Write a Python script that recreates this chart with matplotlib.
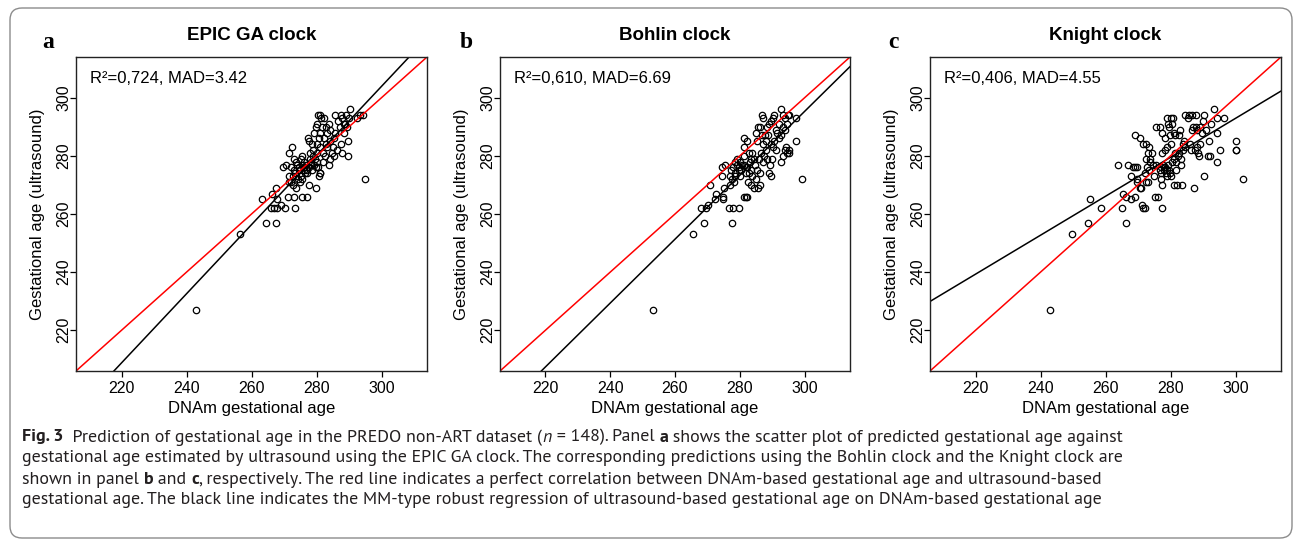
import matplotlib
matplotlib.use("Agg")
import matplotlib.pyplot as plt
from matplotlib.patches import FancyBboxPatch
from matplotlib.transforms import IdentityTransform
from matplotlib.font_manager import FontProperties, fontManager

# ---------------- data ----------------
epic_dnam = [243, 256.5, 263.1, 264.6, 266.4, 267.6, 266.1, 266.9, 267.7, 267.5, 267.8, 269.1, 270.2,
             269.7, 270.5, 271.2, 273, 273.5, 275.6, 277.1, 271.6, 272.5, 271.6, 272, 272.8, 273.8,
             277.6, 279.7, 280.7, 281.2, 271.5, 272.2, 273, 273.5, 274.1, 274.6, 275.1, 275.3, 275.4,
             275.6, 276.1, 276.3, 276.6, 276.9, 277.1, 277.6, 277.9, 278.2, 278.4, 278.7, 279, 279.2,
             279.4, 279.7, 280, 280.2, 274.2, 273.8, 272.8, 274.9, 275.6, 273, 273.8, 277.3, 277.6,
             278.7, 279.2, 279.7, 280.4, 281, 281.4, 282.3, 280.2, 281.2, 281.7, 280.7, 280, 281.2,
             282.3, 282.8, 283.3, 283.8, 284.3, 282.8, 281.9, 282.6, 283.3, 284.3, 284.1, 283.8,
             284.8, 285.1, 285.3, 285.8, 285.8, 286.6, 287.2, 287.4, 287.9, 286.4, 287.4, 287.9,
             288.4, 288.9, 289.2, 289.5, 290, 290.3, 289.7, 289.7, 292.4, 293.4, 294.3, 294.9, 285.3,
             281.9, 281, 288.4, 276.0, 278.0, 277.0, 279.0, 274.5, 280.5]
epic_us = [227, 253, 265, 257, 267, 257, 262, 262, 262, 269, 265, 263, 262,
           276, 277, 266, 266, 262, 266, 266, 281, 283, 273, 271, 270, 269,
           270, 269, 273, 274, 271, 276, 275, 274, 277, 275, 273, 279, 280,
           277, 275, 276, 274, 277, 275, 276, 281, 277, 278, 275, 280, 277,
           279, 276, 278, 281, 272, 273, 273, 271, 272, 279, 278, 286, 285,
           284, 288, 290, 294, 294, 293, 293, 291, 288, 290, 286, 284, 283,
           286, 290, 288, 291, 289, 284, 281, 280, 283, 285, 279, 277,
           281, 283, 286, 288, 294, 292, 290, 294, 293, 282, 284, 281,
           288, 291, 294, 290, 293, 296, 285, 280, 293, 294, 294, 272, 280,
           278, 274, 291, 278, 279, 274, 282, 276, 276]

bohlin_dnam = [253.1, 265.4, 268.9, 277.6, 268.0, 269.7, 270.1, 276.8, 277.9, 279.9, 270.9, 272.4,
               272.6, 274.7, 274.7, 275, 274.5, 274.5, 275.3, 277.1, 277.6, 277.3, 278.1, 278.6,
               279.1, 279.6, 281.2, 281.8, 282.3, 280.5, 281.2, 281.8, 282.3, 282.6, 282.8, 283,
               283.3, 283.6, 283.9, 284.4, 284.7, 284.9, 285.4, 285.7, 286.3, 285.9, 286.5, 286.1,
               287, 287.5, 288, 288.5, 288.9, 289.4, 289.6, 289.9, 290.1, 290.6, 291.1, 292.7,
               293.2, 293.8, 294.3, 294.5, 295.3, 295.1, 297.2, 299.3, 297.2, 281.2, 281.2, 282.3,
               282.8, 283.9, 284.9, 285.4, 285.7, 286.3, 286.8, 287.3, 286.8, 287.9, 288.3, 288.6,
               289, 289.5, 290.1, 290.6, 291.1, 291.6, 292.1, 292.7, 293.2, 293.4, 294, 294.5,
               294.8, 295.3, 293.8, 292.7, 292.2, 289.5, 287.2, 288, 277.1, 277.9, 278.5, 279.1,
               279.6, 280.1, 280.7, 281.2, 281.8, 280.1, 278.6, 283.3, 284.4]
bohlin_us = [227, 253, 257, 257, 262, 262, 263, 262, 262, 262, 270, 265,
             267, 266, 265, 269, 273, 276, 277, 270, 272, 275, 271, 274,
             277, 276, 266, 266, 266, 275, 277, 274, 276, 271, 274, 278,
             275, 270, 273, 269, 277, 272, 275, 269, 270, 279, 281, 274,
             278, 280, 282, 279, 274, 277, 273, 279, 283, 285, 282, 278,
             280, 282, 283, 281, 282, 281, 285, 272, 293, 286, 283, 285,
             281, 281, 288, 285, 290, 290, 294, 293, 287, 287, 290, 287,
             291, 292, 293, 294, 289, 288, 291, 296, 294, 290, 293, 291,
             294, 294, 289, 287, 286, 284, 284, 285, 273, 276, 273, 279,
             275, 273, 277, 280, 276, 278, 278, 279, 279]

knight_dnam = [242.8, 249.6, 254.5, 255.3, 258.6, 263.7, 265.2, 265.5, 266.4, 266.4, 267, 267.9,
               267.9, 268.5, 269, 269.2, 269.2, 269.8, 269.8, 269.8, 270.6, 270.6, 270.9, 271.1,
               271.4, 271.6, 272, 272.3, 272.5, 272.5, 272.6, 272.8, 273, 273.3, 273.1, 273.3,
               273.6, 273.8, 274.4, 274.7, 274.9, 275.2, 275.4, 275.4, 276.2, 276.7, 276.9, 277,
               277.2, 277.4, 277.5, 277.5, 277.5, 277.7, 277.9, 278.2, 278.2, 278.3, 278.5, 278.8,
               278.8, 279, 279, 279.3, 279.2, 279.5, 279.7, 279.8, 280, 280, 280.2, 280.5, 280.8,
               281, 281.1, 281.2, 281.4, 281.5, 281.6, 281.8, 282, 282.2, 282.6, 282.7, 282.9,
               283.1, 283.3, 283.6, 283.7, 283.9, 284.1, 284.4, 284.6, 285.3, 285.6, 285.9, 286.2,
               286.5, 286.6, 286.8, 287.2, 287.5, 287.7, 287.9, 288, 288.2, 288.4, 288.7, 289,
               289.2, 289.7, 290, 290.3, 290.3, 290.8, 291.6, 291.8, 292.3, 292.5, 293.3, 294.2,
               294.2, 294.4, 295.2, 296.4, 300.3, 300.3, 300, 302.3, 278.0, 279.5, 280.5, 277.0]
knight_us = [227, 253, 257, 265, 262, 277, 262, 267, 257, 266, 277, 265,
             273, 276, 266, 276, 287, 276, 272, 271, 286, 269, 269, 263,
             262, 284, 262, 274, 284, 279, 271, 276, 281, 283, 271, 275,
             278, 279, 281, 277, 273, 266, 290, 277, 266, 275, 290, 272,
             276, 288, 262, 270, 281, 277, 275, 286, 282, 276, 274, 283,
             275, 273, 293, 291, 277, 290, 287, 274, 293, 284, 273, 291, 293,
             270, 279, 288, 281, 287, 278, 275, 270, 280, 287, 281, 289,
             277, 279, 270, 282, 284, 285, 294, 283, 293, 294, 284, 282,
             294, 289, 290, 269, 282, 294, 290, 283, 289, 281, 280, 284,
             290, 288, 292, 294, 273, 289, 280, 285, 280, 291, 296, 293,
             288, 278, 282, 293, 285, 282, 282, 272, 276, 275, 278, 274]

panel_letters = ["a", "b", "c"]
panel_titles = ["EPIC GA clock", "Bohlin clock", "Knight clock"]
panel_stats = ["R²=0,724, MAD=3.42", "R²=0,610, MAD=6.69", "R²=0,406, MAD=4.55"]
fit_intercepts = [-52.8, -34.4, 91.9]
fit_slopes = [1.189, 1.099, 0.670]
axis_ticks = [220, 240, 260, 280, 300]
x_label = "DNAm gestational age"
y_label = "Gestational age (ultrasound)"

series = [(epic_dnam, epic_us), (bohlin_dnam, bohlin_us), (knight_dnam, knight_us)]

# ---------------- fonts ----------------
def has_static(name):
    entries = [f for f in fontManager.ttflist if f.name == name]
    reg = any(f.weight in (400, "normal", "regular") and f.style == "normal" for f in entries)
    bold = any(f.weight in (700, "bold") and f.style == "normal" for f in entries)
    ital = any(f.style == "italic" and f.weight in (400, "normal", "regular") for f in entries)
    return reg and bold and ital


cap_font = next((n for n in ["Myriad Pro", "Source Sans Pro", "PT Sans", "Fira Sans", "Open Sans"]
                 if has_static(n)), "DejaVu Sans")
available = set(f.name for f in fontManager.ttflist)
plot_font = next((n for n in ["Arial", "Liberation Sans", "Arimo"] if n in available), "DejaVu Sans")
serif_font = next((n for n in ["Times New Roman", "Liberation Serif", "Tinos"] if n in available), "DejaVu Serif")

# ---------------- layout ----------------
W, H = 1295, 542
fig = plt.figure(figsize=(W / 100, H / 100), dpi=100)
fig.patch.set_facecolor("white")


def fx(px):
    return px / W


def fy(py):
    return 1 - py / H


# outer frame
frame = FancyBboxPatch((10, H - 538), 1282, 530, boxstyle="round,pad=0,rounding_size=12",
                       transform=IdentityTransform(), facecolor="none", edgecolor="#8c8c8c",
                       linewidth=1.0)
fig.add_artist(frame)

axes_px = [(76, 427), (500, 850), (930, 1281)]
top_px, bot_px = 57, 371
letter_x = [48, 466, 893]

for i, (l, r) in enumerate(axes_px):
    ax = fig.add_axes([fx(l), fy(bot_px), fx(r - l), (bot_px - top_px) / H])
    xs, ys = series[i]
    ax.plot(xs, ys, linestyle="none", marker="o", mfc="none", mec="black", ms=4.6, mew=0.9)
    ax.axline((0, fit_intercepts[i]), slope=fit_slopes[i], color="black", lw=1.1)
    ax.axline((0, 0), slope=1, color="#ff0000", lw=1.1)
    ax.set_xlim(206, 314)
    ax.set_ylim(206, 314)
    ax.set_xticks(axis_ticks)
    ax.set_yticks(axis_ticks)
    ax.tick_params(direction="out", length=4, width=0.9, labelsize=11.5, colors="black")
    ax.tick_params(axis="x", pad=3)
    ax.tick_params(axis="y", pad=5)
    for lab in ax.get_yticklabels():
        lab.set_rotation(90)
        lab.set_va("center")
        lab.set_ha("center")
    for lab in ax.get_xticklabels() + ax.get_yticklabels():
        lab.set_fontfamily(plot_font)
    for sp in ax.spines.values():
        sp.set_linewidth(1.0)
        sp.set_color("#222222")
    ax.set_xlabel(x_label, fontsize=12, fontfamily=plot_font, labelpad=4)
    ax.set_ylabel(y_label, fontsize=12, fontfamily=plot_font, labelpad=8)
    ax.set_title(panel_titles[i], fontsize=13.5, fontweight="bold", fontfamily=plot_font, pad=12)
    ax.text(0.04, 0.93, panel_stats[i], transform=ax.transAxes, fontsize=12,
            fontfamily=plot_font, ha="left", va="center")
    fig.text(fx(letter_x[i]), fy(42), panel_letters[i], fontsize=17, fontweight="bold",
             fontfamily=serif_font, ha="center", va="center")

# ---------------- caption ----------------
cap_lines = [
    [("Fig. 3", "b"), ("  Prediction of gestational age in the PREDO non-ART dataset (", "r"), ("n", "i"),
     (" = 148). Panel ", "r"), ("a", "b"),
     (" shows the scatter plot of predicted gestational age against", "r")],
    [("gestational age estimated by ultrasound using the EPIC GA clock. The corresponding predictions using the Bohlin clock and the Knight clock are", "r")],
    [("shown in panel ", "r"), ("b", "b"), (" and ", "r"), ("c", "b"),
     (", respectively. The red line indicates a perfect correlation between DNAm-based gestational age and ultrasound-based", "r")],
    [("gestational age. The black line indicates the MM-type robust regression of ultrasound-based gestational age on DNAm-based gestational age", "r")],
]

fig.canvas.draw()
renderer = fig.canvas.get_renderer()
cap_family = [cap_font, "DejaVu Sans"]


def fprop(style, size):
    return FontProperties(family=cap_family, size=size,
                          weight="bold" if style == "b" else "normal",
                          style="italic" if style == "i" else "normal")


def seg_width(s, style, size):
    fp = fprop(style, size)
    t1 = fig.text(0, 0, "|" + s + "|", fontproperties=fp)
    w1 = t1.get_window_extent(renderer).width
    t1.remove()
    t2 = fig.text(0, 0, "||", fontproperties=fp)
    w2 = t2.get_window_extent(renderer).width
    t2.remove()
    return w1 - w2


# scale font so the first line spans the same width as in the reference
base = 10.0
w_base = sum(seg_width(s, st, base) for s, st in cap_lines[0])
cap_size = base * (1126 - 22) / w_base

baselines = [441.5, 462.5, 483.5, 504.5]
for line, yb in zip(cap_lines, baselines):
    x = 22.0
    for s, st in line:
        fig.text(fx(x), fy(yb), s, fontproperties=fprop(st, cap_size), ha="left", va="baseline",
                 color="#231f20")
        x += seg_width(s, st, cap_size)

fig.savefig("out.png", dpi=100, facecolor="white")
